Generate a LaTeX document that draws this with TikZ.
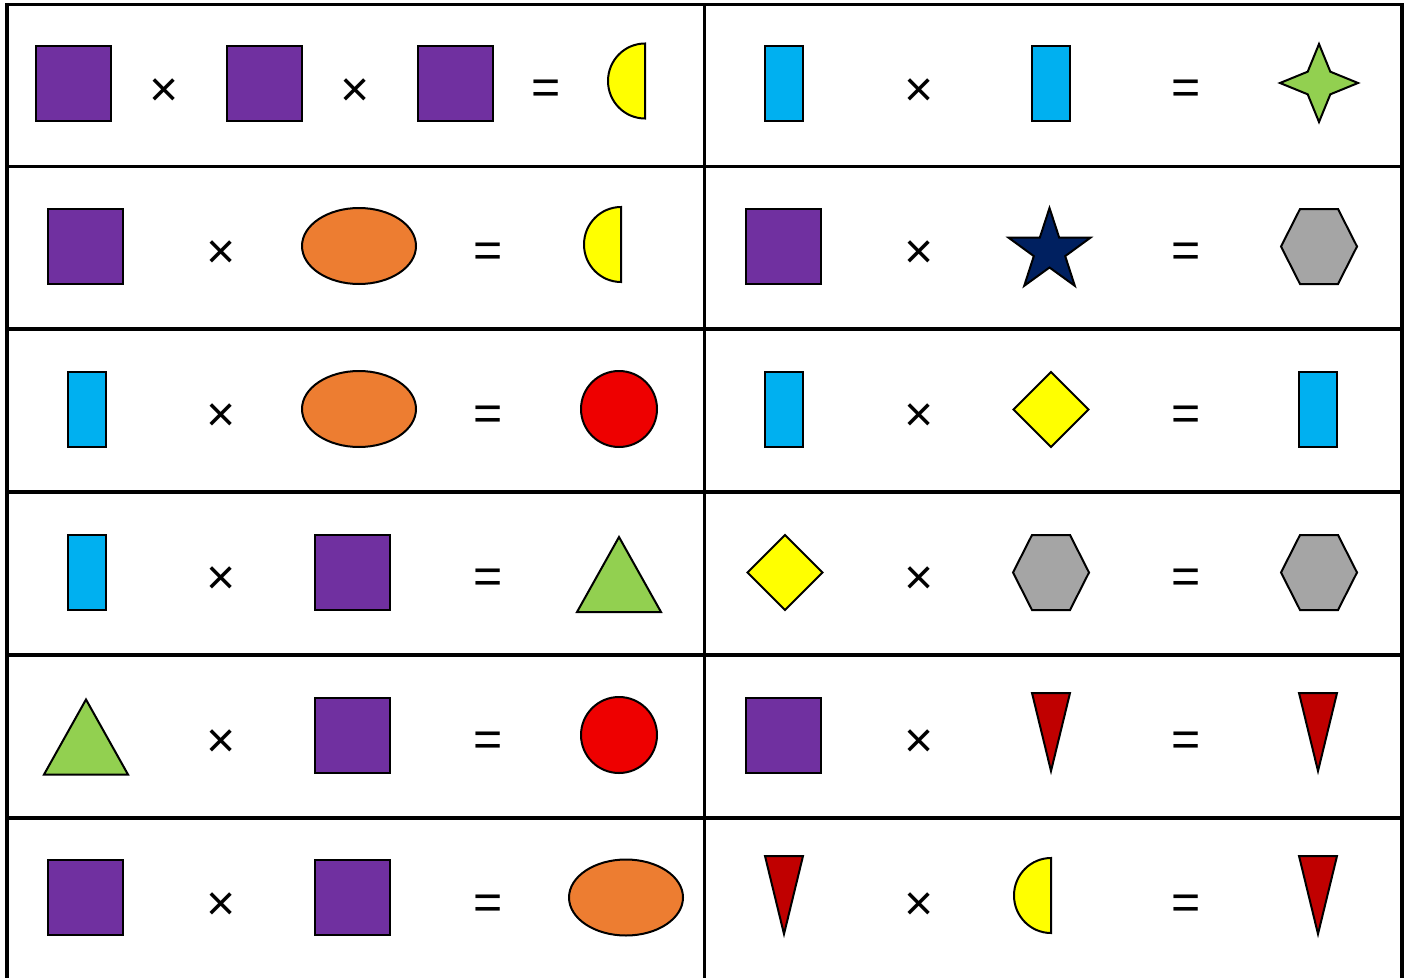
\documentclass[tikz,border=0pt]{standalone}
\usepackage{fontspec}
\setmainfont{Liberation Sans}
\definecolor{purp}{HTML}{7030A0}
\definecolor{sky}{HTML}{00B0F0}
\definecolor{yel}{HTML}{FFFF00}
\definecolor{lgreen}{HTML}{92D050}
\definecolor{orng}{HTML}{ED7D31}
\definecolor{rred}{HTML}{EE0000}
\definecolor{dred}{HTML}{C00000}
\definecolor{navy}{HTML}{002060}
\definecolor{gry}{HTML}{A5A5A5}
\newcommand\Sq[2]{\draw[shp,fill=purp] (#1,#2) ++(-37.5,-37.5) rectangle ++(75,75);}
\newcommand\Rc[2]{\draw[shp,fill=sky] (#1,#2) ++(-19,-37.5) rectangle ++(38,75);}
\newcommand\Ell[2]{\draw[shp,fill=orng] (#1,#2) ellipse [x radius=57, y radius=38];}
\newcommand\Circ[2]{\draw[shp,fill=rred] (#1,#2) circle [radius=38];}
\newcommand\Half[2]{\draw[shp,fill=yel] (#1,#2) ++(0,37.5) arc[start angle=90, end angle=270, x radius=37, y radius=37.5] -- cycle;}
\newcommand\Tri[2]{\draw[shp,fill=lgreen] (#1,#2) -- ++(42,75) -- ++(-84,0) -- cycle;}
\newcommand\InvTri[2]{\draw[shp,fill=dred] (#1,#2) ++(-19,0) -- ++(38,0) -- ++(-19,78) -- cycle;}
\newcommand\Dia[2]{\draw[shp,fill=yel] (#1,#2) ++(0,-37.5) -- ++(37.5,37.5) -- ++(-37.5,37.5) -- ++(-37.5,-37.5) -- cycle;}
\newcommand\Hex[2]{\draw[shp,fill=gry] (#1,#2) ++(-38,0) -- ++(19,-37.5) -- ++(38,0) -- ++(19,37.5) -- ++(-19,37.5) -- ++(-38,0) -- cycle;}
\begin{document}
\begin{tikzpicture}[x=1pt,y=-1pt,
  shp/.style={draw=black,line width=2pt,line join=miter},
  gridline/.style={line width=3.5pt,line join=miter},
  op/.style={font=\fontsize{50}{50}\selectfont, inner sep=0pt}]
\useasboundingbox (0,0) rectangle (1407,977);
\fill[white] (0,0) rectangle (1407,977);
\begin{scope}
\clip (0,0) rectangle (1407,977);
\draw[gridline] (7,1000) -- (7,4.5) -- (1402,4.5) -- (1402,1000);
\draw[gridline] (704.5,4.5) -- (704.5,1000);
\foreach \yy in {166.5,329,492,655,818} \draw[gridline] (7,\yy) -- (1402,\yy);
\end{scope}
% row 1
\Sq{73.5}{83.5} \Sq{264.5}{83.5} \Sq{455.5}{83.5}
\Half{645}{81}
\node[op] (t1a) at (164.5,92.5) {×};
\node[op] (t1b) at (355,92.5) {×};
\node[op] (e1a) at (546,92.5) {=};
\Rc{784}{83.5} \Rc{1051}{83.5}
\node[op] (t1c) at (919,92.5) {×};
\node[op] (e1b) at (1186,92.5) {=};
\draw[shp,fill=lgreen] plot[samples at={0,...,7}] ({1319+(mod(\x,2)==0?39:16)*cos(-90+45*\x)},{83+(mod(\x,2)==0?39:16)*sin(-90+45*\x)}) -- cycle;
% row 2
\Sq{85.5}{246.5} \Ell{359}{246} \Half{621}{244.5}
\node[op] (t2a) at (221,255) {×};
\node[op] (e2a) at (488,255) {=};
\Sq{783}{246.5}
\draw[shp,fill=navy] plot[samples at={0,...,9}] ({1049.5+(mod(\x,2)==0?43:16.5)*cos(-90+36*\x)},{251+(mod(\x,2)==0?43:16.5)*sin(-90+36*\x)}) -- cycle;
\Hex{1319}{246.5}
\node[op] (t2b) at (919,255) {×};
\node[op] (e2b) at (1186,255) {=};
% row 3
\Rc{87}{409.5} \Ell{359}{409} \Circ{619}{409}
\node[op] (t3a) at (221,418) {×};
\node[op] (e3a) at (488,418) {=};
\Rc{784}{409.5} \Dia{1051}{409.5} \Rc{1318}{409.5}
\node[op] (t3b) at (919,418) {×};
\node[op] (e3b) at (1186,418) {=};
% row 4
\Rc{87}{572.5} \Sq{352.5}{572.5} \Tri{619}{537}
\node[op] (t4a) at (221,581) {×};
\node[op] (e4a) at (488,581) {=};
\Dia{785}{572.5} \Hex{1051}{572.5} \Hex{1319}{572.5}
\node[op] (t4b) at (919,581) {×};
\node[op] (e4b) at (1186,581) {=};
% row 5
\Tri{86}{699.5} \Sq{352.5}{735} \Circ{619}{735}
\node[op] (t5a) at (221,744) {×};
\node[op] (e5a) at (488,744) {=};
\Sq{783}{735} \InvTri{1051}{693} \InvTri{1318}{693}
\node[op] (t5b) at (919,744) {×};
\node[op] (e5b) at (1186,744) {=};
% row 6
\Sq{85.5}{897.5} \Sq{352.5}{897.5} \Ell{626}{897.5}
\node[op] (t6a) at (221,907) {×};
\node[op] (e6a) at (488,907) {=};
\InvTri{784}{856} \Half{1051}{895.5} \InvTri{1318}{856}
\node[op] (t6b) at (919,907) {×};
\node[op] (e6b) at (1186,907) {=};
\end{tikzpicture}
\end{document}
